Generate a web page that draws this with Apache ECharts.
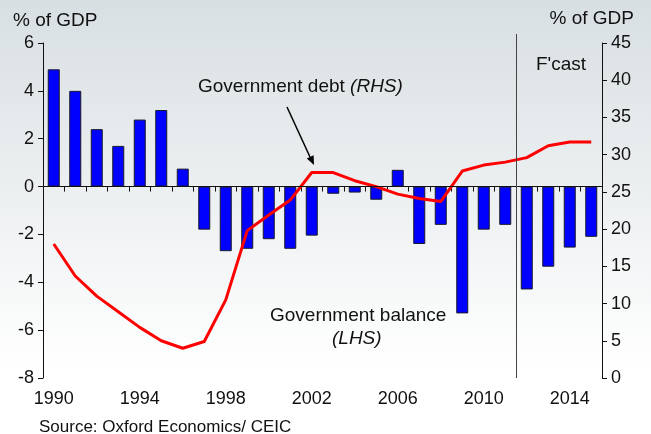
<!DOCTYPE html>
<html>
<head>
<meta charset="utf-8">
<script src="https://cdn.jsdelivr.net/npm/echarts@6/dist/echarts.min.js"></script>
<style>
html, body { margin: 0; padding: 0; }
#chart { width: 651px; height: 434px; }
</style>
</head>
<body>
<div id="chart"></div>
<script>
// data
var years = ['1990', '1991', '1992', '1993', '1994', '1995', '1996', '1997', '1998', '1999',
  '2000', '2001', '2002', '2003', '2004', '2005', '2006', '2007', '2008', '2009',
  '2010', '2011', '2012', '2013', '2014', '2015'];
var balance = [4.9, 4.0, 2.4, 1.7, 2.8, 3.2, 0.75, -1.8, -2.7, -2.6,
  -2.2, -2.6, -2.05, -0.3, -0.25, -0.55, 0.7, -2.4, -1.6, -5.3,
  -1.8, -1.6, -4.3, -3.35, -2.55, -2.1];
var debt = [18.0, 13.7, 11.0, 8.9, 6.8, 5.0, 4.0, 4.9, 10.5, 19.8,
  21.9, 23.9, 27.6, 27.6, 26.5, 25.7, 24.7, 24.1, 23.7, 27.8,
  28.6, 29.0, 29.6, 31.2, 31.7, 31.7];
var forecastFrom = 2011.5;

var font = 'Liberation Sans, Arial, sans-serif';
var ink = '#111';

var myChart = echarts.init(document.getElementById('chart'));
var option = {
  animation: false,
  backgroundColor: {
    type: 'linear', x: 0, y: 0, x2: 0, y2: 1,
    colorStops: [{ offset: 0, color: '#d8dfe2' }, { offset: 0.85, color: '#ffffff' }, { offset: 1, color: '#ffffff' }]
  },
  grid: { left: 43, right: 49, top: 43, bottom: 56 },
  xAxis: [
    {
      type: 'category',
      data: years,
      boundaryGap: true,
      axisLine: { lineStyle: { color: ink, width: 1 } },
      axisTick: { show: true, interval: 0, length: 5, lineStyle: { color: ink } },
      axisLabel: { interval: 3, color: ink, fontSize: 18, fontFamily: font, margin: 12 }
    },
    {
      // hidden helper axis for the forecast divider
      type: 'value', min: 1989.5, max: 2015.5, show: false
    }
  ],
  yAxis: [
    {
      type: 'value', min: -8, max: 6, interval: 2,
      splitLine: { show: false },
      axisLine: { show: true, lineStyle: { color: ink } },
      axisTick: { show: true, length: 5, lineStyle: { color: ink } },
      axisLabel: { color: ink, fontSize: 18, fontFamily: font, margin: 9 }
    },
    {
      type: 'value', min: 0, max: 45, interval: 5,
      position: 'right',
      splitLine: { show: false },
      axisLine: { show: true, lineStyle: { color: ink } },
      axisTick: { show: true, length: 5, lineStyle: { color: ink } },
      axisLabel: { color: ink, fontSize: 18, fontFamily: font, margin: 9 }
    }
  ],
  series: [
    {
      name: 'Government balance',
      type: 'bar',
      data: balance,
      barWidth: 12,
      itemStyle: { color: '#0000ff', borderColor: '#1a1a2a', borderWidth: 1 },
      markLine: {
        silent: true, symbol: 'none', label: { show: false },
        lineStyle: { color: ink, width: 1, type: 'solid' },
        data: [{ yAxis: 0 }]
      },
      z: 2
    },
    {
      name: 'Government debt',
      type: 'line',
      yAxisIndex: 1,
      data: debt,
      symbol: 'none',
      lineStyle: { color: '#ff0000', width: 3 },
      z: 3
    },
    {
      name: 'forecast',
      type: 'line',
      xAxisIndex: 1,
      data: [],
      markLine: {
        silent: true, symbol: 'none', label: { show: false },
        lineStyle: { color: '#444', width: 1, type: 'solid' },
        data: [{ xAxis: forecastFrom }]
      }
    }
  ],
  graphic: [
    { type: 'line', shape: { x1: 516.5, y1: 34, x2: 516.5, y2: 43 }, style: { stroke: '#444', lineWidth: 1 } },
    { type: 'text', left: 13, top: 11, style: { text: '% of GDP', font: '19px ' + font, fill: ink } },
    { type: 'text', right: 17, top: 9, style: { text: '% of GDP', font: '19px ' + font, fill: ink } },
    { type: 'text', left: 536, top: 55, style: { text: "F'cast", font: '19px ' + font, fill: ink } },
    { type: 'text', left: 198, top: 77, style: { rich: { n: { font: '19px ' + font, fill: ink }, i: { font: 'italic 19px ' + font, fill: ink } }, text: '{n|Government debt }{i|(RHS)}' } },
    { type: 'text', left: 270, top: 306, style: { text: 'Government balance', font: '19px ' + font, fill: ink } },
    { type: 'text', left: 332, top: 329, style: { text: '(LHS)', font: 'italic 19px ' + font, fill: ink } },
    { type: 'line', shape: { x1: 287, y1: 107, x2: 310, y2: 157 }, style: { stroke: '#000', lineWidth: 1.5 } },
    { type: 'polygon', shape: { points: [[314, 165], [306.8, 158.4], [313.6, 155.2]] }, style: { fill: '#000' } },
    { type: 'text', left: 39, top: 419, style: { text: 'Source: Oxford Economics/ CEIC', font: '17px ' + font, fill: ink } }
  ]
};
myChart.setOption(option);
</script>
</body>
</html>
